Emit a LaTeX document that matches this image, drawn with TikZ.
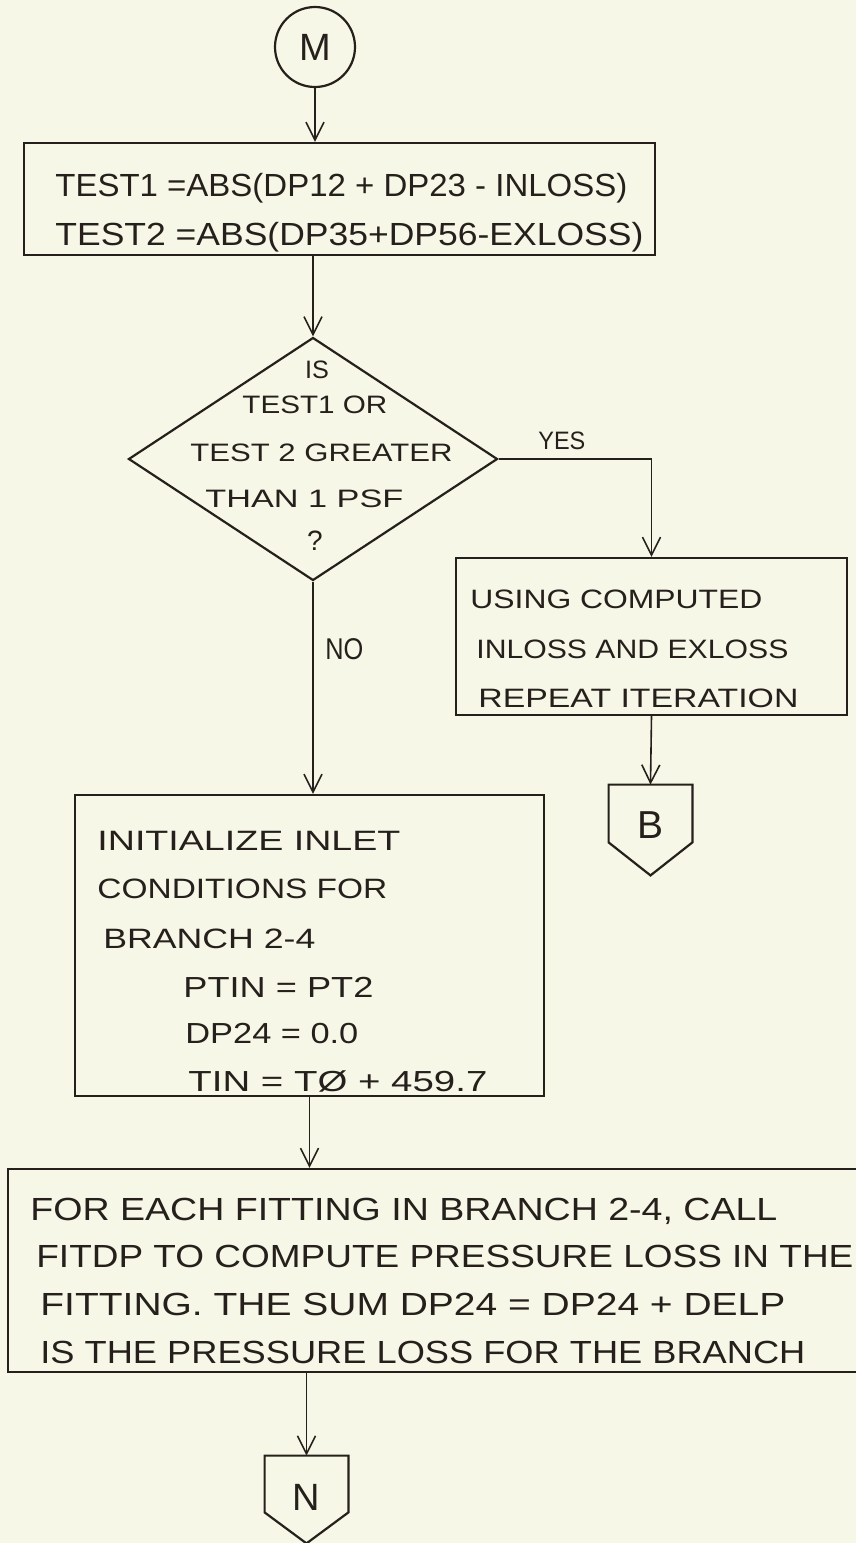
\documentclass[tikz,border=0pt]{standalone}
\usepackage{fontspec}
\setmainfont{Liberation Sans}
\usepackage{graphicx}
\usetikzlibrary{arrows.meta,shapes.geometric,calc}
\definecolor{paper}{RGB}{247,247,232}
\definecolor{ink}{RGB}{38,32,28}
\newcommand\fitw[2]{\resizebox{#1}{\height}{#2}}
\newcommand\fs[1]{\fontsize{#1}{#1}\selectfont}
\tikzset{
  boxshape/.style={draw=ink, line width=1.1pt, rectangle, inner sep=0pt},
  conn/.style={draw=ink, line width=0.8pt},
  arr/.style={conn, -{Straight Barb[length=9pt,width=9pt]}},
  txt/.style={text=ink, inner sep=0pt, anchor=base west},
  ctxt/.style={text=ink, inner sep=0pt, anchor=base},
  offpage/.style={draw=none, rectangle, inner sep=0pt, minimum width=41.5pt, minimum height=28.5pt, text=ink}
}
\begin{document}
\begin{tikzpicture}[x=0.5pt,y=-0.5pt]
\fill[paper] (0,0) rectangle (856,1543);
\useasboundingbox (0,0) rectangle (856,1543);

% connector M
\node[circle, draw=ink, line width=1.1pt, minimum size=40pt, inner sep=0pt, text=ink, font=\fs{19}] (M) at (315,47) {M};

% box 1
\node[boxshape, minimum width=315.5pt, minimum height=56pt] (box1) at (339.5,199) {};
\node[txt, font=\fs{16}] (b1l1) at (55,196) {\fitw{286pt}{TEST1 =ABS(DP12 + DP23 - INLOSS)}};
\node[txt, font=\fs{16}] (b1l2) at (55,245) {\fitw{294pt}{TEST2 =ABS(DP35+DP56-EXLOSS)}};

% decision
\node[diamond, draw=ink, line width=1.1pt, inner sep=0pt, minimum width=184.5pt, minimum height=121.5pt] (dia) at (313,459) {};
\node[ctxt, font=\fs{12.6}] (d1) at (317,378) {IS};
\node[txt, font=\fs{12.6}] (d2) at (242,413) {\fitw{72.5pt}{TEST1 OR}};
\node[txt, font=\fs{12.6}] (d3) at (190,461) {\fitw{131pt}{TEST 2 GREATER}};
\node[txt, font=\fs{12.6}] (d4) at (205,507) {\fitw{99pt}{THAN 1 PSF}};
\node[ctxt, font=\fs{14}] (d5) at (315,550) {?};

% right box
\node[boxshape, minimum width=195.5pt, minimum height=78.5pt] (rbox) at (651.5,636.5) {};
\node[txt, font=\fs{13.3}] (r1) at (470,608) {\fitw{146pt}{USING COMPUTED}};
\node[txt, font=\fs{13.3}] (r2) at (476,658) {\fitw{156pt}{INLOSS AND EXLOSS}};
\node[txt, font=\fs{13.3}] (r3) at (478,707) {\fitw{160pt}{REPEAT ITERATION}};

% off-page connector B
\node[offpage] (B) at (650.5,813.5) {\fs{19.5}\raisebox{-5.25pt}[14pt][0pt]{B}};
\draw[ink, line width=1.1pt] (B.north west) -- (B.north east) -- (B.south east) -- ($(B.south)+(0,33)$) -- (B.south west) -- cycle;

% box 2
\node[boxshape, minimum width=234.5pt, minimum height=150.5pt] (box2) at (309.5,945.5) {};
\node[txt, font=\fs{14}] (c1) at (97,850) {\fitw{151.5pt}{INITIALIZE INLET}};
\node[txt, font=\fs{14}] (c2) at (97,898) {\fitw{145pt}{CONDITIONS FOR}};
\node[txt, font=\fs{14}] (c3) at (103,948) {\fitw{106pt}{BRANCH 2-4}};
\node[txt, font=\fs{14.5}] (c4) at (183,997) {\fitw{95pt}{PTIN = PT2}};
\node[txt, font=\fs{14.5}] (c5) at (185,1043) {\fitw{86.5pt}{DP24 = 0.0}};
\node[txt, font=\fs{14.5}] (c6) at (188,1091) {\fitw{149.5pt}{TIN = TØ + 459.7}};

% box 3
\node[boxshape, minimum width=431pt, minimum height=101.5pt] (box3) at (439,1270.5) {};
\node[txt, font=\fs{16}] (e1) at (30,1220) {\fitw{373.5pt}{FOR EACH FITTING IN BRANCH 2-4, CALL}};
\node[txt, font=\fs{16}] (e2) at (36,1267) {\fitw{408.5pt}{FITDP TO COMPUTE PRESSURE LOSS IN THE}};
\node[txt, font=\fs{16}] (e3) at (40,1315) {\fitw{372.5pt}{FITTING. THE SUM DP24 = DP24 + DELP}};
\node[txt, font=\fs{16}] (e4) at (40,1363) {\fitw{382.5pt}{IS THE PRESSURE LOSS FOR THE BRANCH}};

% off-page connector N
\node[offpage, minimum height=28pt] (N) at (306.5,1484) {\fs{19}\raisebox{-6.5pt}[13.6pt][0pt]{N}};
\draw[ink, line width=1.1pt] (N.north west) -- (N.north east) -- (N.south east) -- ($(N.south)+(0,31)$) -- (N.south west) -- cycle;

% labels
\node[txt, font=\fs{12.6}] (yes) at (538,449) {\fitw{23.5pt}{YES}};
\node[txt, font=\fs{15}] (no) at (325,659) {\fitw{19pt}{NO}};

% connectors
\draw[arr] (M.south) -- (M.south |- box1.north);
\draw[arr] (dia.north |- box1.south) -- (dia.north);
\draw[arr] (dia.east) -| (rbox.north);
\draw[arr] (rbox.south) -- (B.north);
\draw[arr] (dia.south) -- (dia.south |- box2.north);
\draw[arr] (box2.south) -- (box2.south |- box3.north);
\draw[arr] (N.north |- box3.south) -- (N.north);
\end{tikzpicture}
\end{document}
